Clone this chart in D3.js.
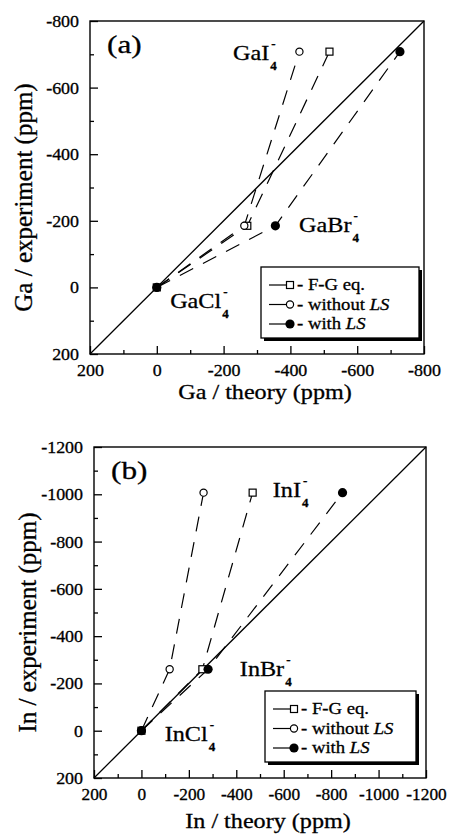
<!DOCTYPE html>
<html>
<head>
<meta charset="utf-8">
<script src="https://cdn.jsdelivr.net/npm/d3@7"></script>
<style>
  body { margin: 0; background: #fff; }
  svg text { font-family: "Liberation Serif", "Times New Roman", serif; fill: #000; stroke: #000; stroke-width: 0.3px; }
</style>
</head>
<body>
<svg id="chart" width="450" height="834"></svg>
<script>
// panel (a): gallium halides, ppm
const gaNames = ['GaCl', 'GaBr', 'GaI'];
const gaExperiment = [0, -185, -708];
const gaFG = [0, -271, -517];
const gaNoLS = [0, -262, -427];
const gaLS = [0, -355, -728];
const gaTicks = [200, 0, -200, -400, -600, -800];
const gaNamePos = [[-40, 62], [-426, -166], [-228, -682]];

// panel (b): indium halides, ppm
const inNames = ['InCl', 'InBr', 'InI'];
const inExperiment = [0, -260, -1007];
const inFG = [0, -257, -469];
const inNoLS = [0, -119, -262];
const inLS = [0, -281, -848];
const inTicks = [200, 0, -200, -400, -600, -800, -1000, -1200];
const inNamePos = [[-98, 42], [-415, -231], [-554, -987]];

const legendNames = ['F-G eq.', 'without LS', 'with LS'];

const svg = d3.select('#chart');
const fmt = function(d) { return String(d); };

function stretch(sel, sx) {
  sel.each(function() {
    const t = d3.select(this);
    const tx = +t.attr('x') || 0;
    const ty = +t.attr('y') || 0;
    t.attr('x', 0).attr('y', 0)
      .attr('transform', 'translate(' + tx + ',' + ty + ') scale(' + sx + ',1)');
  });
}

function drawPanel(o) {
  const lo = o.ticks[0];
  const hi = o.ticks[o.ticks.length - 1];
  const x = d3.scaleLinear().domain([lo, hi]).range([o.left, o.right]);
  const y = d3.scaleLinear().domain([lo, hi]).range([o.bottom, o.top]);
  const minor = d3.range(lo, hi - 1, -100).filter(function(v) { return v % 200 !== 0; });

  const g = svg.append('g');

  // axes: ticks inward on left and bottom
  const ax = g.append('g').attr('transform', 'translate(0,' + o.bottom + ')');
  ax.call(d3.axisBottom(x).tickValues(minor).tickSizeInner(-4).tickSizeOuter(0).tickFormat(''));
  ax.append('g').call(d3.axisBottom(x).tickValues(o.ticks).tickSizeInner(-8)
      .tickSizeOuter(0).tickPadding(11).tickFormat(fmt));
  const ay = g.append('g').attr('transform', 'translate(' + o.left + ',0)');
  ay.call(d3.axisLeft(y).tickValues(minor).tickSizeInner(-4).tickSizeOuter(0).tickFormat(''));
  ay.append('g').call(d3.axisLeft(y).tickValues(o.ticks).tickSizeInner(-8)
      .tickSizeOuter(0).tickPadding(11).tickFormat(fmt));
  g.selectAll('.domain').remove();
  g.selectAll('.tick line').attr('stroke', '#000').attr('stroke-width', 1.3);
  ax.selectAll('text').attr('font-size', 16).attr('transform', 'scale(' + o.xsx + ',1)');
  ay.selectAll('text').attr('font-size', 16).attr('dy', '0.34em')
    .attr('x', -11 / 1.12).attr('transform', 'scale(1.12,1)');

  // frame
  g.append('rect')
      .attr('x', o.left).attr('y', o.top)
      .attr('width', o.right - o.left).attr('height', o.bottom - o.top)
      .attr('fill', 'none').attr('stroke', '#000').attr('stroke-width', 1.4);

  // y = x
  g.append('line')
      .attr('x1', x(lo)).attr('y1', y(lo)).attr('x2', x(hi)).attr('y2', y(hi))
      .attr('stroke', '#000').attr('stroke-width', 1.3);

  const series = [
    {vals: o.fg, kind: 'square'},
    {vals: o.noLS, kind: 'open'},
    {vals: o.ls, kind: 'filled'}
  ];

  series.forEach(function(s) {
    const line = d3.line()
      .x(function(d) { return x(d); })
      .y(function(d, i) { return y(o.exp[i]); });
    g.append('path').datum(s.vals)
        .attr('d', line)
        .attr('fill', 'none').attr('stroke', '#000').attr('stroke-width', 1.2)
        .attr('stroke-dasharray', '15,11');
  });

  series.forEach(function(s) {
    s.vals.forEach(function(v, i) {
      drawMarker(g, s.kind, x(v), y(o.exp[i]));
    });
  });

  // compound labels
  o.names.forEach(function(n, i) {
    const px = x(o.namePos[i][0]);
    const py = y(o.namePos[i][1]);
    const t = g.append('text').attr('x', px).attr('y', py)
        .attr('font-size', 22).text(n);
    stretch(t, 1.1);
    const w = t.node().getComputedTextLength() * 1.1;
    g.append('text').attr('x', px + w + 1).attr('y', py + 10)
        .attr('font-size', 13).attr('font-weight', 'bold').text('4');
    g.append('text').attr('x', px + w + 2).attr('y', py - 12)
        .attr('font-size', 13).attr('font-weight', 'bold').text('-');
  });

  // panel tag
  const tag = g.append('text').attr('x', o.left + 17).attr('y', o.top + 32)
      .attr('font-size', 26).text(o.tag);
  stretch(tag, 1.2);

  // axis titles
  const xt = g.append('text').attr('x', (o.left + o.right) / 2 + 8).attr('y', o.bottom + o.xTitleGap)
      .attr('text-anchor', 'middle').attr('font-size', 21).text(o.xTitle);
  stretch(xt, 1.15);
  g.append('text')
      .attr('transform', 'translate(' + (o.left - 58) + ',' + ((o.top + o.bottom) / 2 + 10) + ') rotate(-90)')
      .attr('text-anchor', 'middle').attr('font-size', 25).text(o.yTitle);

  // legend
  const lg = g.append('g').attr('transform', 'translate(' + o.legX + ',' + o.legY + ')');
  lg.append('rect').attr('x', 3).attr('y', 3).attr('width', o.legW).attr('height', 71)
      .attr('fill', '#000');
  lg.append('rect').attr('x', 0).attr('y', 0).attr('width', o.legW).attr('height', 71)
      .attr('fill', '#fff').attr('stroke', '#000').attr('stroke-width', 1.3);
  ['square', 'open', 'filled'].forEach(function(kind, i) {
    const ry = 18 + i * 19.5;
    lg.append('line').attr('x1', 8).attr('x2', 26).attr('y1', ry).attr('y2', ry)
        .attr('stroke', '#000').attr('stroke-width', 1.2);
    drawMarker(lg, kind, 29, ry);
    const name = legendNames[i];
    const t = lg.append('text').attr('x', 36).attr('y', ry + 5).attr('font-size', 17);
    if (name.endsWith('LS')) {
      t.append('tspan').text('- ' + name.slice(0, -2));
      t.append('tspan').attr('font-style', 'italic').text('LS');
    } else {
      t.append('tspan').text('- ' + name);
    }
    stretch(t, 1.1);
  });
}

function drawMarker(g, kind, cx, cy) {
  if (kind === 'square') {
    g.append('rect').attr('x', cx - 3.5).attr('y', cy - 3.5).attr('width', 7).attr('height', 7)
        .attr('fill', '#fff').attr('stroke', '#000').attr('stroke-width', 1.2);
  } else if (kind === 'open') {
    g.append('circle').attr('cx', cx).attr('cy', cy).attr('r', 3.6)
        .attr('fill', '#fff').attr('stroke', '#000').attr('stroke-width', 1.2);
  } else {
    g.append('circle').attr('cx', cx).attr('cy', cy).attr('r', 4.6)
        .attr('fill', '#000');
  }
}

drawPanel({
  left: 90, right: 424, top: 21, bottom: 354,
  ticks: gaTicks, exp: gaExperiment, fg: gaFG, noLS: gaNoLS, ls: gaLS,
  names: gaNames, namePos: gaNamePos, tag: '(a)', xsx: 1.12, xTitleGap: 45,
  xTitle: 'Ga / theory (ppm)', yTitle: 'Ga / experiment (ppm)',
  legX: 261, legY: 267, legW: 158
});

drawPanel({
  left: 94, right: 426, top: 447, bottom: 778,
  ticks: inTicks, exp: inExperiment, fg: inFG, noLS: inNoLS, ls: inLS,
  names: inNames, namePos: inNamePos, tag: '(b)', xsx: 1.08, xTitleGap: 50,
  xTitle: 'In / theory (ppm)', yTitle: 'In / experiment (ppm)',
  legX: 265, legY: 691, legW: 151
});
</script>
</body>
</html>
